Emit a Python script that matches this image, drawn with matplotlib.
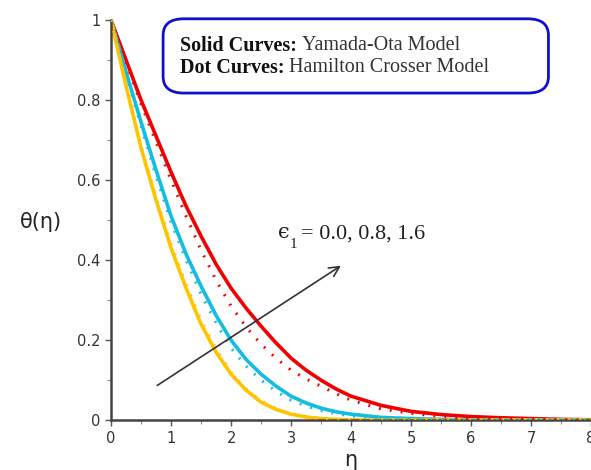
import numpy as np
import matplotlib.pyplot as plt
from matplotlib.patches import FancyBboxPatch
from matplotlib.ticker import MultipleLocator

eta = [0, 0.25, 0.5, 0.75, 1.0, 1.25, 1.5, 1.75, 2.0, 2.25, 2.5, 2.75, 3.0, 3.25, 3.5, 3.75, 4.0,
       4.5, 5.0, 5.5, 6.0, 6.5, 7.0, 7.5, 8.0]

# solid curves: Yamada-Ota model
red_solid = [1.0, 0.90, 0.80, 0.71, 0.62, 0.535, 0.46, 0.39, 0.33, 0.28, 0.235, 0.193, 0.155, 0.125, 0.10, 0.078, 0.06,
             0.037, 0.022, 0.014, 0.009, 0.006, 0.004, 0.002, 0.001]
cyan_solid = [1.0, 0.87, 0.745, 0.625, 0.51, 0.415, 0.335, 0.262, 0.20, 0.152, 0.115, 0.085, 0.06, 0.043, 0.03, 0.021, 0.015,
              0.007, 0.004, 0.002, 0.001, 0.001, 0.001, 0.001, 0.001]
yellow_solid = [1.0, 0.835, 0.68, 0.55, 0.43, 0.33, 0.24, 0.17, 0.115, 0.075, 0.045, 0.027, 0.015, 0.008, 0.004, 0.002, 0.001,
                0, 0, 0, 0, 0, 0, 0, 0]

# dotted curves: Hamilton Crosser model
red_dot = [1.0, 0.895, 0.79, 0.695, 0.60, 0.51, 0.425, 0.35, 0.285, 0.233, 0.19, 0.155, 0.125, 0.103, 0.085, 0.066, 0.05,
           0.028, 0.017, 0.009, 0.005, 0.003, 0.002, 0.001, 0]
cyan_dot = [1.0, 0.865, 0.735, 0.61, 0.495, 0.40, 0.315, 0.243, 0.18, 0.135, 0.10, 0.072, 0.05, 0.035, 0.024, 0.016, 0.011,
            0.005, 0.002, 0.001, 0, 0, 0, 0, 0]
yellow_dot = [1.0, 0.84, 0.685, 0.557, 0.44, 0.34, 0.25, 0.178, 0.12, 0.078, 0.048, 0.029, 0.016, 0.009, 0.004, 0.002, 0.001,
              0, 0, 0, 0, 0, 0, 0, 0]

colors = ['#f00000', '#12bde0', '#ffc400']

fig = plt.figure(figsize=(5.91, 4.70), dpi=100)
ax = fig.add_axes([0.188, 0.106, 0.812, 0.851])

for ys, yd, c in [(red_solid, red_dot, colors[0]),
                  (cyan_solid, cyan_dot, colors[1]),
                  (yellow_solid, yellow_dot, colors[2])]:
    ax.plot(eta, yd, color=c, lw=2.2, linestyle=(0, (0.6, 3.0)), solid_capstyle='butt', zorder=3)
    ax.plot(eta, ys, color=c, lw=2.6, zorder=2)

ax.set_xlim(0, 8)
ax.set_ylim(0, 1)
ax.set_xticks(range(9))
ax.set_yticks([0, 0.2, 0.4, 0.6, 0.8, 1.0])
ax.set_yticklabels(['0', '0.2', '0.4', '0.6', '0.8', '1'])
ax.xaxis.set_minor_locator(MultipleLocator(0.5))
ax.yaxis.set_minor_locator(MultipleLocator(0.1))
ax.tick_params(which='major', length=4, width=1, color='#555555', labelsize=10.5, labelcolor='#333333')
ax.tick_params(which='minor', length=3, width=0.8, color='#888888')
for s in ['top', 'right']:
    ax.spines[s].set_visible(False)
for s in ['left', 'bottom']:
    ax.spines[s].set_color('#444444')
    ax.spines[s].set_linewidth(1.8)

fig.text(0.07, 0.528, 'θ(η)', fontsize=15, ha='center', va='center', color='#222222', family='DejaVu Sans')
fig.text(0.594, 0.022, 'η', fontsize=15, ha='center', va='center', color='#222222', family='DejaVu Sans')

# legend box
box = FancyBboxPatch((0.276, 0.802), 0.652, 0.158, boxstyle='round,pad=0,rounding_size=0.035',
                     transform=fig.transFigure, fill=False, edgecolor='#1010cc', lw=2.0)
fig.patches.append(box)

fig.canvas.draw()
renderer = fig.canvas.get_renderer()


def two_part(x, y, bold, normal, size):
    t = fig.text(x, y, bold, fontsize=size, family='Liberation Serif', fontweight='bold',
                 va='center', color='#111111')
    bb = t.get_window_extent(renderer).transformed(fig.transFigure.inverted())
    fig.text(bb.x1 + 0.008, y, normal, fontsize=size, family='Liberation Serif', va='center', color='#333333')


two_part(0.305, 0.903, 'Solid Curves:', 'Yamada-Ota Model', 14.5)
two_part(0.305, 0.856, 'Dot Curves:', 'Hamilton Crosser Model', 14.5)

ax.annotate('', xy=(3.87, 0.39), xytext=(0.73, 0.083),
            arrowprops=dict(arrowstyle='->', color='#333333', lw=1.2, mutation_scale=18))

# epsilon_1 label
ax.text(2.78, 0.455, 'ϵ', fontsize=15, family='DejaVu Serif', color='#222222')
ax.text(2.98, 0.43, '1', fontsize=11, family='Liberation Serif', color='#222222')
ax.text(3.17, 0.455, '= 0.0, 0.8, 1.6', fontsize=16, family='Liberation Serif', color='#222222')

fig.savefig('out.png', dpi=100)
